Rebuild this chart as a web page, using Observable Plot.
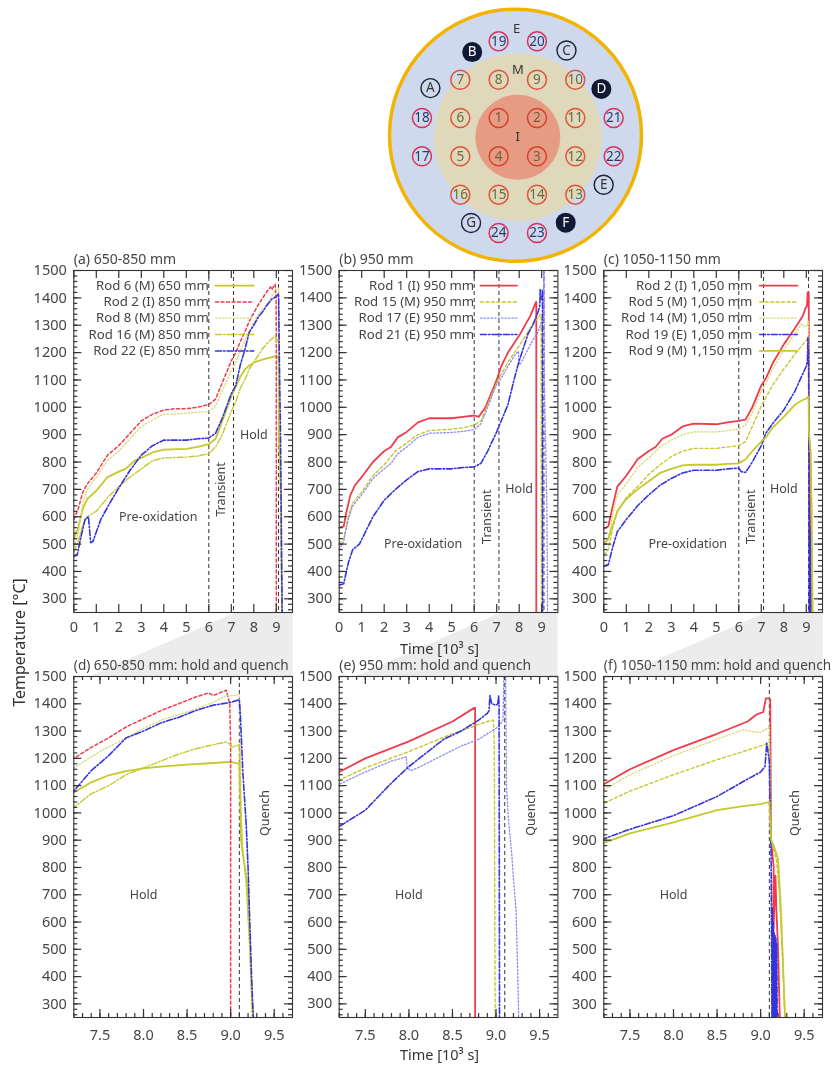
<!DOCTYPE html>
<html>
<head>
<meta charset="utf-8">
<script src="https://cdn.jsdelivr.net/npm/d3@7"></script>
<script src="https://cdn.jsdelivr.net/npm/@observablehq/plot@0.6"></script>
<style>
html,body{margin:0;padding:0;background:#fff;overflow:hidden}
#page{position:relative;width:835px;height:1067px;overflow:hidden;filter:blur(0.3px)}
#page svg{position:absolute;overflow:visible;background:transparent}
</style>
</head>
<body>
<div id="page"></div>
<script>
// ---------- rod map (grid units) ----------
const innerRods = [[1,-.5,-.5],[2,.5,-.5],[3,.5,.5],[4,-.5,.5]];
const middleRods = [[5,-1.5,.5],[6,-1.5,-.5],[7,-1.5,-1.5],[8,-.5,-1.5],[9,.5,-1.5],[10,1.5,-1.5],[11,1.5,-.5],[12,1.5,.5],[13,1.5,1.5],[14,.5,1.5],[15,-.5,1.5],[16,-1.5,1.5]];
const outerRods = [[17,-2.5,.5],[18,-2.5,-.5],[19,-.5,-2.5],[20,.5,-2.5],[21,2.5,-.5],[22,2.5,.5],[23,.5,2.5],[24,-.5,2.5]];
const openMarkers = [["A",-2.28,-1.28],["C",1.27,-2.26],["E",2.24,1.24],["G",-1.22,2.24]];
const filledMarkers = [["B",-1.19,-2.22],["D",2.18,-1.26],["F",1.25,2.23]];
const zoneLabels = [["E",-.03,-2.83],["M",0,-1.77],["I",0,0]];

// ---------- temperature histories [10^3 s, °C] ----------
const a_rod6 = [[0,520],[.2,560],[.4,630],[.6,665],[1,695],[1.5,745],[2,765],[2.3,775],[2.7,805],[3,815],[3.5,835],[4,845],[5,848],[5.5,855],[6,865],[6.3,885],[6.6,950],[7,1040],[7.2,1075],[7.4,1112],[7.6,1138],[7.8,1153],[8,1163],[8.2,1170],[8.5,1177],[8.8,1183],[9,1187],[9.1,1180],[9.11,1050],[9.12,900],[9.14,850],[9.17,790],[9.2,700],[9.25,300],[9.26,250]];
const a_rod2 = [[0,590],[.2,630],[.4,690],[.6,720],[1,760],[1.5,825],[2,860],[2.5,905],[3,950],[3.5,975],[4,990],[4.5,995],[5,995],[5.5,1000],[6,1010],[6.3,1030],[6.6,1090],[7,1170],[7.2,1200],[7.4,1240],[7.6,1275],[7.8,1315],[8,1345],[8.2,1375],[8.4,1400],[8.6,1425],[8.75,1440],[8.8,1430],[8.95,1450],[8.99,1400],[9,1250],[9,250]];
const a_rod8 = [[0,490],[.2,540],[.4,650],[.6,700],[1,745],[1.5,805],[2,840],[2.5,885],[3,930],[3.5,955],[4,975],[4.5,975],[5,978],[5.5,982],[6,985],[6.3,1005],[6.6,1060],[7,1135],[7.2,1165],[7.5,1225],[7.8,1275],[8,1310],[8.2,1340],[8.5,1370],[8.8,1405],[8.95,1430],[9.05,1430],[9.1,1435],[9.11,1300],[9.12,1000],[9.14,880],[9.18,720],[9.22,500],[9.25,250]];
const a_rod16 = [[0,470],[.2,510],[.4,570],[.6,600],[1,620],[1.5,670],[2,710],[2.5,745],[3,775],[3.5,805],[4,815],[5,818],[5.5,822],[6,830],[6.3,855],[6.6,900],[7,985],[7.2,1020],[7.4,1070],[7.6,1100],[7.8,1140],[8,1165],[8.2,1190],[8.4,1215],[8.6,1235],[8.8,1250],[8.95,1260],[9,1250],[9.02,1240],[9.05,1245],[9.1,1250],[9.11,1100],[9.13,880],[9.16,800],[9.18,750],[9.22,500],[9.25,250]];
const a_rod22 = [[0,455],[.15,460],[.3,520],[.5,590],[.65,600],[.75,505],[.85,510],[1.2,590],[1.6,650],[2,705],[2.5,770],[3,825],[3.5,860],[4,880],[5,880],[5.5,885],[6,888],[6.3,905],[6.6,960],[7,1050],[7.2,1080],[7.4,1155],[7.6,1210],[7.8,1275],[8,1300],[8.2,1330],[8.4,1350],[8.6,1375],[8.8,1395],[9,1405],[9.1,1415],[9.11,1370],[9.12,1300],[9.14,1150],[9.18,950],[9.2,800],[9.22,600],[9.24,400],[9.26,250]];

const b_rod1 = [[0,560],[.2,565],[.3,610],[.5,680],[.7,715],[1,745],[1.5,800],[2,840],[2.3,855],[2.6,890],[3,910],[3.5,945],[4,960],[5,960],[5.5,965],[6,970],[6.2,965],[6.5,1000],[7,1100],[7.2,1150],[7.5,1200],[8,1262],[8.5,1335],[8.75,1385],[8.76,1385],[8.76,250]];
const b_rod15 = [[0,500],[.2,520],[.4,600],[.6,650],[1,690],[1.5,750],[2,790],[2.5,840],[3,870],[3.5,900],[4,915],[5,920],[5.5,925],[6,935],[6.3,950],[6.6,1010],[7,1090],[7.2,1120],[7.5,1165],[8,1225],[8.5,1290],[8.9,1335],[8.97,1340],[8.98,1250],[8.99,250]];
const b_rod17 = [[0,480],[.2,510],[.4,590],[.6,640],[1,680],[1.5,740],[2,775],[2.3,795],[2.6,830],[3,855],[3.5,890],[4,905],[5,908],[5.5,912],[6,918],[6.3,940],[6.6,1000],[7,1085],[7.2,1105],[7.5,1150],[7.8,1190],[7.97,1205],[7.98,1165],[8.02,1155],[8.1,1165],[8.6,1245],[8.8,1270],[9,1310],[9.05,1325],[9.08,1340],[9.09,1500],[9.11,1500],[9.12,1100],[9.14,990],[9.15,950],[9.18,850],[9.2,760],[9.23,640],[9.25,400],[9.26,250]];
const b_rod21 = [[0,350],[.2,355],[.4,430],[.6,480],[.9,500],[1.2,550],[1.5,600],[2,660],[2.5,700],[3,735],[3.5,765],[4,775],[5,775],[5.5,780],[6,782],[6.3,795],[6.6,840],[7,910],[7.2,950],[7.5,1010],[7.8,1110],[8,1170],[8.2,1220],[8.4,1270],[8.6,1300],[8.8,1340],[8.9,1365],[8.92,1375],[8.93,1430],[8.95,1400],[9,1395],[9.02,1400],[9.03,1430],[9.035,1390],[9.04,250]];

const c_rod2 = [[0,555],[.2,565],[.4,640],[.6,710],[1,750],[1.5,810],[2,840],[2.3,855],[2.6,885],[3,900],[3.5,930],[4,940],[5,938],[5.5,945],[6,950],[6.3,955],[6.6,1000],[7,1080],[7.2,1105],[7.5,1160],[8,1230],[8.5,1290],[8.85,1335],[8.95,1360],[9.03,1370],[9.06,1420],[9.1,1420],[9.11,1415],[9.12,900],[9.15,800],[9.14,500],[9.17,770],[9.18,650],[9.2,500],[9.22,250]];
const c_rod5 = [[0,460],[.2,480],[.4,560],[.6,620],[1,670],[1.5,710],[2,755],[2.5,790],[3,820],[3.5,840],[4,850],[5,850],[5.5,855],[6,860],[6.3,875],[6.6,930],[7,1005],[7.2,1035],[7.5,1080],[8,1140],[8.5,1195],[9,1245],[9.08,1255],[9.1,1250],[9.12,900],[9.18,830],[9.22,700],[9.26,400],[9.28,250]];
const c_rod14 = [[0,500],[.2,520],[.4,610],[.6,680],[1,720],[1.5,780],[2,815],[2.5,855],[3,880],[3.5,900],[4,910],[5,910],[5.5,915],[6,920],[6.3,935],[6.6,980],[7,1060],[7.2,1085],[7.5,1140],[8,1210],[8.5,1270],[8.8,1305],[8.9,1298],[9,1295],[9.1,1315],[9.12,900],[9.2,830],[9.24,650],[9.27,300],[9.28,250]];
const c_rod19 = [[0,420],[.2,425],[.4,490],[.6,545],[1,590],[1.5,640],[2,680],[2.5,715],[3,740],[3.5,760],[4,770],[5,770],[5.5,775],[6,778],[6.1,765],[6.3,762],[6.6,800],[7,860],[7.2,905],[7.5,940],[8,990],[8.5,1060],[8.8,1115],[9,1150],[9.05,1170],[9.07,1255],[9.1,1190],[9.11,1000],[9.12,850],[9.13,250],[9.135,650],[9.14,250],[9.145,600],[9.15,250],[9.155,560],[9.16,250],[9.165,550],[9.17,250],[9.175,540],[9.18,250],[9.185,520],[9.19,250]];
const c_rod9 = [[0,500],[.2,520],[.4,570],[.6,620],[1,665],[1.5,700],[2,730],[2.5,760],[3,775],[3.5,788],[4,790],[5,790],[5.5,793],[6,795],[6.3,810],[6.6,840],[7,875],[7.2,890],[7.5,925],[8,965],[8.5,1010],[8.8,1025],[9,1032],[9.1,1040],[9.12,900],[9.15,880],[9.2,830],[9.22,700],[9.25,500],[9.28,250]];

// ---------- labels and ticks ----------
const yMajor = [300,400,500,600,700,800,900,1000,1100,1200,1300,1400,1500];
const yMinor = d3.range(260,1500,20);
const xMajorTop = [0,1,2,3,4,5,6,7,8,9];
const xMajorBottom = [7.5,8,8.5,9,9.5];
const xMinorBottom = d3.range(7.2,9.7,0.1);
const phaseLinesTop = [6,7.1,9.1];
const phaseLinesBottom = [9.1];

// ---------- line styles ----------
const OLIVE="#c6c82c", OLIVE_L="#d9d978", RED="#ee3c4a", BLUE="#3434dc", BLUE_L="#8a8af0";
const SOLID=null, DASH="3 2.5", DOT="1.5 2", DASHDOT="6 2 1.5 2";

const panelsTop = [
 {left:0, ml:73.3, title:"(a) 650-850 mm", legendEnd:6.0, sample:[6.3,8.0],
  series:[["Rod 6 (M) 650 mm",a_rod6,OLIVE,SOLID,1.8],["Rod 2 (I) 850 mm",a_rod2,RED,DASH,1.5],["Rod 8 (M) 850 mm",a_rod8,OLIVE_L,DOT,1.3],["Rod 16 (M) 850 mm",a_rod16,OLIVE,DASHDOT,1.4],["Rod 22 (E) 850 mm",a_rod22,BLUE,DASHDOT,1.6]],
  notes:[["Pre-oxidation",3.75,600,0],["Transient",6.55,700,-90],["Hold",8.0,900,0]]},
 {left:293, ml:45.7, title:"(b) 950 mm", legendEnd:6.0, sample:[6.28,7.9],
  series:[["Rod 1 (I) 950 mm",b_rod1,RED,SOLID,1.8],["Rod 15 (M) 950 mm",b_rod15,OLIVE,DASH,1.4],["Rod 17 (E) 950 mm",b_rod17,BLUE_L,DOT,1.3],["Rod 21 (E) 950 mm",b_rod21,BLUE,DASHDOT,1.6]],
  notes:[["Pre-oxidation",3.73,500,0],["Transient",6.58,600,-90],["Hold",8.0,700,0]]},
 {left:558, ml:45.3, title:"(c) 1050-1150 mm", legendEnd:6.6, sample:[6.93,8.6],
  series:[["Rod 2 (I) 1,050 mm",c_rod2,RED,SOLID,1.8],["Rod 5 (M) 1,050 mm",c_rod5,OLIVE,DASH,1.4],["Rod 14 (M) 1,050 mm",c_rod14,OLIVE_L,DOT,1.3],["Rod 19 (E) 1,050 mm",c_rod19,BLUE,DASHDOT,1.6],["Rod 9 (M) 1,150 mm",c_rod9,OLIVE,SOLID,1.8]],
  notes:[["Pre-oxidation",3.73,500,0],["Transient",6.52,600,-90],["Hold",8.0,700,0]]}
];
const panelsBottom = [
 {title:"(d) 650-850 mm: hold and quench"},
 {title:"(e) 950 mm: hold and quench"},
 {title:"(f) 1050-1150 mm: hold and quench"}
];
const legendRows = [1445,1385,1326,1266,1206];

const FONT='"Noto Sans", sans-serif', INK="#454545", FRAME="#333333";
const page = document.getElementById("page");
function place(svg,left,top){svg.style.left=left+"px";svg.style.top=top+"px";page.appendChild(svg);}

// ---------- page backdrop: grey wedges and shared axis title ----------
const wedges = [
 [[235,612],[292,612],[292,676],[88,676]],
 [[500,612],[557,612],[557,676],[354,676]],
 [[765,612],[822,612],[822,676],[618,676]]
];
const backdrop = Plot.plot({
  width:835,height:1067,margin:0,
  x:{domain:[0,835],range:[0,835],axis:null},
  y:{domain:[0,1067],range:[0,1067],axis:null},
  style:{fontFamily:FONT},
  marks:[
    ...wedges.map(w=>Plot.line(w,{x:d=>d[0],y:d=>d[1],fill:"#ececec",stroke:"none"})),
    Plot.text(["Temperature [°C]"],{x:()=>19,y:()=>642,rotate:-90,fontSize:16,fill:"#333"})
  ]
});
place(backdrop,0,0);

// ---------- rod map ----------
const pick = i => d => d[i];
const rodGroup = (rods,stroke,fill)=>[
  Plot.dot(rods,{x:pick(1),y:pick(2),r:9.5,stroke,strokeWidth:1.5,fill:"none"}),
  Plot.text(rods,{x:pick(1),y:pick(2),text:d=>String(d[0]),fontSize:13.5,fill})
];
const rodMap = Plot.plot({
  width:270,height:270,margin:0,
  x:{domain:[-3.582,3.462],range:[0,270],axis:null},
  y:{domain:[-3.566,3.478],range:[0,270],axis:null},
  style:{fontFamily:FONT},
  marks:[
    Plot.dot([[-.06,-.05]],{x:pick(0),y:pick(1),r:126,fill:"#cfd9ee",stroke:"#f2b400",strokeWidth:3.5}),
    Plot.dot([[0,0]],{x:pick(0),y:pick(1),r:84,fill:"#e0d8ba"}),
    Plot.dot([[0,0]],{x:pick(0),y:pick(1),r:42.5,fill:"#e59c82"}),
    ...rodGroup(innerRods,"#d8402e","#7a5a3a"),
    ...rodGroup(middleRods,"#e0553c","#6a6a40"),
    ...rodGroup(outerRods,"#d8305c","#2a3a66"),
    Plot.dot(openMarkers,{x:pick(1),y:pick(2),r:9.5,stroke:"#1a2238",strokeWidth:1.4,fill:"none"}),
    Plot.text(openMarkers,{x:pick(1),y:pick(2),text:pick(0),fontSize:13.5,fill:"#333"}),
    Plot.dot(filledMarkers,{x:pick(1),y:pick(2),r:10,fill:"#101a34"}),
    Plot.text(filledMarkers,{x:pick(1),y:pick(2),text:pick(0),fontSize:13.5,fill:"#fff"}),
    Plot.text(zoneLabels,{x:pick(1),y:pick(2),text:pick(0),fontSize:13,fill:"#333"})
  ]
});
place(rodMap,380,0);

// ---------- chart panels ----------
function framedTicks(xMaj,xMin,plotW,plotH){
  const c={stroke:FRAME,strokeWidth:1.2,strokeOpacity:1};
  return [
    Plot.ruleX(xMaj,{x:d=>d,insetTop:plotH-8,...c}),
    Plot.ruleX(xMaj,{x:d=>d,insetBottom:plotH-8,...c}),
    Plot.ruleX(xMin,{x:d=>d,insetTop:plotH-4,...c}),
    Plot.ruleX(xMin,{x:d=>d,insetBottom:plotH-4,...c}),
    Plot.ruleY(yMajor,{y:d=>d,insetRight:plotW-8,...c}),
    Plot.ruleY(yMajor,{y:d=>d,insetLeft:plotW-8,...c}),
    Plot.ruleY(yMinor,{y:d=>d,insetRight:plotW-4,...c}),
    Plot.ruleY(yMinor,{y:d=>d,insetLeft:plotW-4,...c})
  ];
}
function panel({left,top,ml,mt,plotH,domain,xMaj,xMin,lines,title,series,notes,legend,xLabel,labelDy,tickPad,xFmt}){
  const plotW=218.7, mb=50;
  const marks=[
    Plot.axisY({ticks:yMajor,anchor:"left",tickSize:0,tickPadding:7,fontSize:14.5,label:null,fill:INK,tickFormat:d=>String(d)}),
    Plot.axisX({ticks:xMaj,anchor:"bottom",tickSize:0,tickPadding:tickPad,fontSize:14.5,label:null,fill:INK,tickFormat:xFmt}),
    Plot.ruleX(lines,{x:d=>d,stroke:"#333",strokeWidth:1,strokeDasharray:"4 3"}),
    ...series.map(s=>Plot.line(s[1],{x:pick(0),y:pick(1),stroke:s[2],strokeWidth:s[4],strokeDasharray:s[3]||undefined,clip:true})),
    ...framedTicks(xMaj,xMin,plotW,plotH),
    Plot.frame({stroke:FRAME,strokeWidth:1.1}),
    Plot.text([title],{frameAnchor:"top-left",lineAnchor:"middle",dy:-11,textAnchor:"start",fontSize:title.length>30?13.6:14,fill:INK}),
    ...notes.map(n=>Plot.text([n[0]],{x:()=>n[1],y:()=>n[2],rotate:n[3],fontSize:12.5,fill:INK}))
  ];
  if(legend){
    series.forEach((s,i)=>{
      const row=legendRows[i];
      marks.push(Plot.text([s[0]],{x:()=>legend.end,y:()=>row,textAnchor:"end",fontSize:13.2,fill:INK}));
      marks.push(Plot.line(legend.sample.map(x=>[x,row]),{x:pick(0),y:pick(1),stroke:s[2],strokeWidth:s[4],strokeDasharray:s[3]||undefined}));
    });
  }
  if(xLabel) marks.push(Plot.text([xLabel],{frameAnchor:"bottom",lineAnchor:"middle",dx:-9,dy:labelDy,fontSize:14.5,fill:"#333"}));
  const svg=Plot.plot({
    width:ml+plotW+1,height:mt+plotH+mb,marginLeft:ml,marginRight:1,marginTop:mt,marginBottom:mb,
    x:{domain,axis:null},y:{domain:[250,1500],axis:null},
    style:{fontFamily:FONT,background:"transparent"},marks
  });
  place(svg,left,top);
}
panelsTop.forEach((p,i)=>{
  panel({left:p.left,top:245,ml:p.ml,mt:25,plotH:342,domain:[0,9.72],xMaj:xMajorTop,xMin:[],lines:phaseLinesTop,
    title:p.title,series:p.series,notes:p.notes,legend:{end:p.legendEnd,sample:p.sample},
    xLabel:i===1?"Time [10³ s]":null,labelDy:37,tickPad:9,xFmt:d=>String(d)});
  panel({left:p.left,top:650,ml:p.ml,mt:26,plotH:341,domain:[7.2,9.71],xMaj:xMajorBottom,xMin:xMinorBottom,lines:phaseLinesBottom,
    title:panelsBottom[i].title,series:p.series,notes:[["Hold",8.0,700,0],["Quench",9.4,1000,-90]],legend:null,
    xLabel:i===1?"Time [10³ s]":null,labelDy:38,tickPad:12,xFmt:d3.format(".1f")});
});
</script>
</body>
</html>
